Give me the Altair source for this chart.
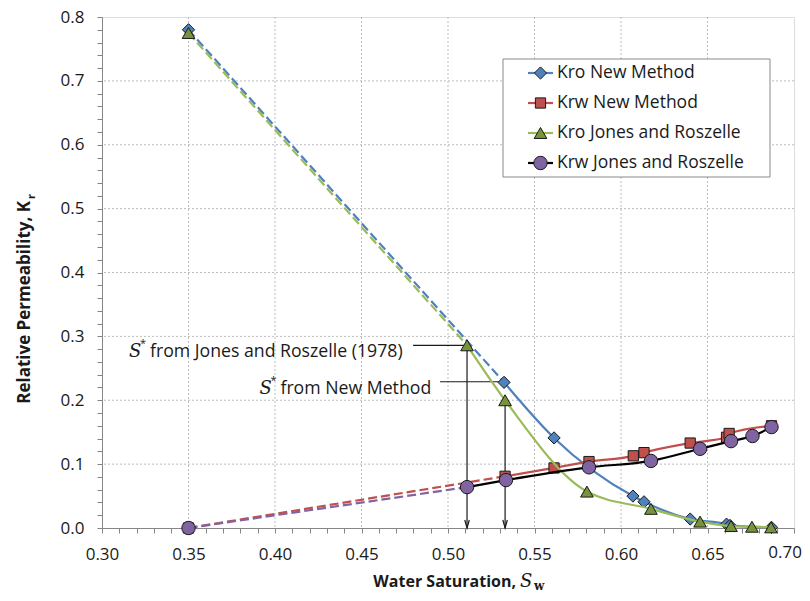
import altair as alt
import pandas as pd
import numpy as np

# ---------------- data ----------------
series_names = ["Kro New Method", "Krw New Method", "Kro Jones and Roszelle", "Krw Jones and Roszelle"]

kro_nm_sw = [0.350, 0.5324, 0.5613, 0.6069, 0.6133, 0.6400, 0.6610, 0.6630, 0.6870]
kro_nm_kr = [0.780, 0.228, 0.141, 0.050, 0.041, 0.014, 0.006, 0.004, 0.001]

krw_nm_sw = [0.350, 0.5330, 0.5613, 0.5815, 0.6071, 0.6133, 0.6400, 0.6610, 0.6625, 0.6870]
krw_nm_kr = [0.000, 0.081, 0.094, 0.104, 0.113, 0.118, 0.133, 0.142, 0.148, 0.160]

kro_jr_sw = [0.350, 0.5110, 0.5330, 0.5803, 0.6173, 0.6457, 0.6636, 0.6757, 0.6867]
kro_jr_kr = [0.775, 0.286, 0.200, 0.057, 0.030, 0.010, 0.003, 0.002, 0.001]

krw_jr_sw = [0.350, 0.5110, 0.5335, 0.5815, 0.6173, 0.6457, 0.6636, 0.6760, 0.6870]
krw_jr_kr = [0.000, 0.064, 0.075, 0.095, 0.105, 0.124, 0.136, 0.144, 0.158]

x_major = [0.30, 0.35, 0.40, 0.45, 0.50, 0.55, 0.60, 0.65, 0.70]
y_major = [0.0, 0.1, 0.2, 0.3, 0.4, 0.5, 0.6, 0.7, 0.8]

# annotations: S* markers (text start, leader start, target point)
ann_labels = ["from Jones and Roszelle (1978)", "from New Method"]
ann_text_x = [0.3156, 0.3910]
ann_text_y = [0.276, 0.218]
ann_lead_x0 = [0.4798, 0.4954]
ann_lead_x1 = [0.5110, 0.5324]
ann_lead_y = [0.286, 0.229]
arrow_x = [0.5110, 0.5330]
arrow_top = [0.286, 0.200]

# ---------------- styling ----------------
FONT = "Open Sans"
line_colors = ["#4F81BD", "#C0504D", "#9BBB59", "#000000"]
dash_colors = ["#4F81BD", "#C0504D", "#9BBB59", "#8064A2"]
fill_colors = ["#4F81BD", "#C0504D", "#77933C", "#8064A2"]
shapes = ["diamond", "square", "triangle-up", "circle"]
sizes = [150, 105, 160, 180]

W, H = 692, 511
xs = alt.Scale(domain=[0.30, 0.70], nice=False, zero=False)
ys = alt.Scale(domain=[0.0, 0.80], nice=False, zero=False)

x_minor = [round(0.30 + 0.01 * i, 2) for i in range(41)]
y_minor = [round(0.02 * i, 2) for i in range(41)]

AX = alt.Axis(
    values=x_minor, title=None, grid=False, tickSize=5, labelFlush=False, labelOverlap=False,
    labelExpr="(round(datum.value*100) % 5 == 0 && datum.value < 0.695) ? format(datum.value, '.2f') : ''",
    labelFont=FONT, labelFontSize=17, labelColor="#1a1a1a", labelPadding=13,
    domainColor="#868686", tickColor="#868686")
AY = alt.Axis(
    values=y_minor, title=None, grid=False, tickSize=5, labelFlush=False, labelOverlap=False,
    labelExpr="(round(datum.value*100) % 10 == 0) ? format(datum.value, '.1f') : ''",
    labelFont=FONT, labelFontSize=17, labelColor="#1a1a1a", labelPadding=13,
    domainColor="#868686", tickColor="#868686")


def X(f="sw"):
    return alt.X(f"{f}:Q", scale=xs, axis=AX)


def Y(f="kr"):
    return alt.Y(f"{f}:Q", scale=ys, axis=AY)


all_sw = [kro_nm_sw, krw_nm_sw, kro_jr_sw, krw_jr_sw]
all_kr = [kro_nm_kr, krw_nm_kr, kro_jr_kr, krw_jr_kr]

rows = []
for name, sw, kr in zip(series_names, all_sw, all_kr):
    for i, (a, b) in enumerate(zip(sw, kr)):
        rows.append({"series": name, "idx": i, "sw": a, "kr": b})
df = pd.DataFrame(rows)

# base with axes (invisible points)
base = alt.Chart(pd.DataFrame({"sw": [0.3, 0.7], "kr": [0.0, 0.8]})).mark_point(opacity=0).encode(
    x=X(), y=Y())

gx = alt.Chart(pd.DataFrame({"sw": x_major[1:-1]})).mark_rule(
    color="#bdbdbd", strokeDash=[2, 2], strokeWidth=1).encode(x=X())
gy = alt.Chart(pd.DataFrame({"kr": y_major[1:-1]})).mark_rule(
    color="#bdbdbd", strokeDash=[2, 2], strokeWidth=1).encode(y=Y())

# last x tick label, kept inside the page edge
last_lab = alt.Chart(pd.DataFrame({"sw": [x_major[-1]], "lab": ["%.2f" % x_major[-1]]})).mark_text(
    font=FONT, fontSize=17, color="#1a1a1a", align="right", baseline="top", dx=8).encode(
    x=X(), y=alt.value(H + 17), text="lab:N")

layers = [base, gx, gy, last_lab]

# dashed extrapolation lines
for k, name in enumerate(series_names):
    d = df[(df.series == name) & (df.idx <= 1)]
    layers.append(alt.Chart(d).mark_line(color=dash_colors[k], strokeWidth=2.2, strokeDash=[9, 4])
                  .encode(x=X(), y=Y(), order="idx:Q"))

# annotation arrows (under markers)
ann_df = pd.DataFrame({"sw": ann_lead_x0, "x1": ann_lead_x1, "kr": ann_lead_y,
                       "ax": arrow_x, "atop": arrow_top, "zero": [0.0, 0.0],
                       "tx": ann_text_x, "ty": ann_text_y, "lab": ann_labels})
layers.append(alt.Chart(ann_df).mark_rule(color="#1a1a1a", strokeWidth=1.2).encode(
    x=X("sw"), x2="x1:Q", y=Y("kr")))
layers.append(alt.Chart(ann_df).mark_rule(color="#1a1a1a", strokeWidth=1.2).encode(
    x=X("ax"), y=Y("atop"), y2="zero:Q"))
layers.append(alt.Chart(ann_df).mark_point(
    shape="M-0.45,-1.6L0,0L0.45,-1.6", filled=False, stroke="#1a1a1a", strokeWidth=1.2,
    size=100, opacity=1).encode(x=X("ax"), y=Y("zero")))

# solid smoothed lines + markers
for k, name in enumerate(series_names):
    d = df[(df.series == name) & (df.idx >= 1)]
    layers.append(alt.Chart(d).mark_line(color=line_colors[k], strokeWidth=2.2, interpolate="monotone")
                  .encode(x=X(), y=Y(), order="idx:Q"))
    dm = df[df.series == name]
    layers.append(alt.Chart(dm).mark_point(shape=shapes[k], filled=True, fill=fill_colors[k],
                                           stroke="#1a1a1a", strokeWidth=1, size=sizes[k], opacity=1)
                  .encode(x=X(), y=Y()))

# annotation texts
layers.append(alt.Chart(ann_df).mark_text(font="DejaVu Serif", fontStyle="italic", fontSize=18,
                                          align="left", baseline="middle", color="#1a1a1a").encode(
    x=X("tx"), y=Y("ty"), text=alt.value("S")))
layers.append(alt.Chart(ann_df).mark_text(font=FONT, fontSize=11, align="left", baseline="middle",
                                          dx=11, dy=-8, color="#1a1a1a").encode(
    x=X("tx"), y=Y("ty"), text=alt.value("*")))
layers.append(alt.Chart(ann_df).mark_text(font=FONT, fontSize=17.7, align="left", baseline="middle",
                                          dx=21, color="#1a1a1a").encode(
    x=X("tx"), y=Y("ty"), text="lab:N"))

# legend (drawn manually)
leg_box = alt.Chart(pd.DataFrame({"a": [0]})).mark_rect(fill="white", stroke="#8a8a8a", strokeWidth=1).encode(
    x=alt.value(401), x2=alt.value(668), y=alt.value(42), y2=alt.value(160))
layers.append(leg_box)
for k, name in enumerate(series_names):
    yy = 56 + 30 * k
    one = pd.DataFrame({"name": [name]})
    layers.append(alt.Chart(one).mark_rule(color=line_colors[k], strokeWidth=2.2).encode(
        x=alt.value(426), x2=alt.value(451), y=alt.value(yy)))
    layers.append(alt.Chart(one).mark_point(shape=shapes[k], filled=True, fill=fill_colors[k],
                                            stroke="#1a1a1a", strokeWidth=1, size=sizes[k], opacity=1).encode(
        x=alt.value(438.5), y=alt.value(yy)))
    layers.append(alt.Chart(one).mark_text(font=FONT, fontSize=17.5, align="left", baseline="middle",
                                           color="#1a1a1a").encode(
        x=alt.value(455), y=alt.value(yy), text="name:N"))

# axis titles
t = pd.DataFrame({"a": [0]})
layers.append(alt.Chart(t).mark_text(font=FONT, fontWeight="bold", fontSize=16, align="right",
                                     baseline="middle", color="#1a1a1a").encode(
    x=alt.value(414), y=alt.value(565), text=alt.value("Water Saturation,")))
layers.append(alt.Chart(t).mark_text(font="DejaVu Serif", fontStyle="italic", fontSize=18, align="left",
                                     baseline="middle", color="#1a1a1a").encode(
    x=alt.value(418), y=alt.value(565), text=alt.value("S")))
layers.append(alt.Chart(t).mark_text(font="DejaVu Serif", fontWeight="bold", fontSize=12, align="left",
                                     baseline="middle", color="#1a1a1a").encode(
    x=alt.value(432), y=alt.value(569), text=alt.value("w")))
layers.append(alt.Chart(t).mark_text(font=FONT, fontWeight="bold", fontSize=17, align="right", angle=270,
                                     baseline="middle", color="#1a1a1a").encode(
    x=alt.value(-77), y=alt.value(184), text=alt.value("Relative Permeability, K")))
layers.append(alt.Chart(t).mark_text(font=FONT, fontWeight="bold", fontSize=11, align="left", angle=270,
                                     baseline="middle", color="#1a1a1a").encode(
    x=alt.value(-70), y=alt.value(182), text=alt.value("r")))

chart = alt.layer(*layers).properties(
    width=W, height=H,
    autosize=alt.AutoSizeParams(type="none"),
    padding={"left": 94, "top": 9, "right": 8, "bottom": 65},
).configure_view(stroke="#868686", strokeWidth=1).configure(background="white")

chart.save("out.html", embed_options={"renderer": "svg", "actions": False})
